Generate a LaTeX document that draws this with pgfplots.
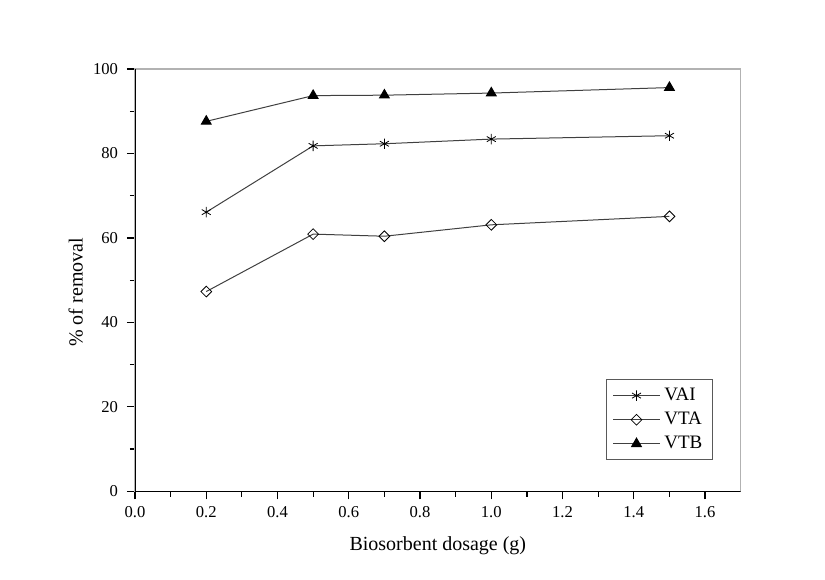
\documentclass[border=0pt]{standalone}
\usepackage{pgfplots}
\pgfplotsset{compat=1.18}
\usepackage{fontspec}
\setmainfont{Liberation Serif}
\begin{document}
\begin{tikzpicture}[x=1pt,y=1pt]
\path[use as bounding box] (0,0) rectangle (412.5,289.5);
\begin{axis}[
  at={(67.5pt,43.85pt)}, anchor=south west,
  scale only axis, width=302.85pt, height=211.15pt,
  xmin=0, xmax=1.7, ymin=0, ymax=100,
  xtick={0,0.2,0.4,0.6,0.8,1.0,1.2,1.4,1.6},
  xticklabels={0.0,0.2,0.4,0.6,0.8,1.0,1.2,1.4,1.6},
  ytick={0,20,40,60,80,100},
  minor x tick num=1, minor y tick num=1,
  tick pos=left, tick align=outside,
  major tick length=4pt, minor tick length=2.6pt,
  every tick/.style={black, line width=0.6pt},
  /pgf/number format/assume math mode=true,
  ticklabel style={font=\fontsize{8.3}{10}\selectfont},
  yticklabel style={xshift=-1pt},
  label style={font=\fontsize{10}{12}\selectfont},
  xlabel={Biosorbent dosage (g)},
  ylabel={\% of removal},
  xlabel style={at={(axis description cs:0.5,0)}, anchor=center, yshift=-27.2pt},
  ylabel style={at={(axis description cs:-0.0979,0.471)}, anchor=center},
  axis line style={draw=gray!60, line width=0.6pt},
  legend style={at={(rel axis cs:0.954,0.074)}, anchor=south east,
    draw=gray!70!black, line width=0.5pt, font=\fontsize{9.5}{11}\selectfont,
    row sep=0.3pt, inner xsep=3pt, inner ysep=2pt, cells={anchor=west}},
  legend image code/.code={\draw[mark repeat=2,mark phase=2] plot coordinates {(0cm,0cm) (0.41cm,0cm) (0.82cm,0cm)};},
]
\draw[black, line width=0.7pt] (rel axis cs:0,1) -- (rel axis cs:0,0) -- (rel axis cs:1,0);
\addplot[black!75, line width=0.5pt, mark=asterisk, mark size=2.6pt, mark options={black, line width=0.4pt}]
  coordinates {(0.2,66.1) (0.5,81.8) (0.7,82.3) (1.0,83.4) (1.5,84.2)};
\addlegendentry{VAI}
\addplot[black!75, line width=0.5pt, mark=square, mark size=1.9pt, mark options={black, fill=white, line width=0.4pt, rotate=45}]
  coordinates {(0.2,47.3) (0.5,60.9) (0.7,60.4) (1.0,63.1) (1.5,65.1)};
\addlegendentry{VTA}
\addplot[black!75, line width=0.5pt, mark=triangle*, mark size=2.8pt, mark options={black, fill=black}]
  coordinates {(0.2,87.6) (0.5,93.7) (0.7,93.8) (1.0,94.3) (1.5,95.6)};
\addlegendentry{VTB}
\end{axis}
\end{tikzpicture}
\end{document}
